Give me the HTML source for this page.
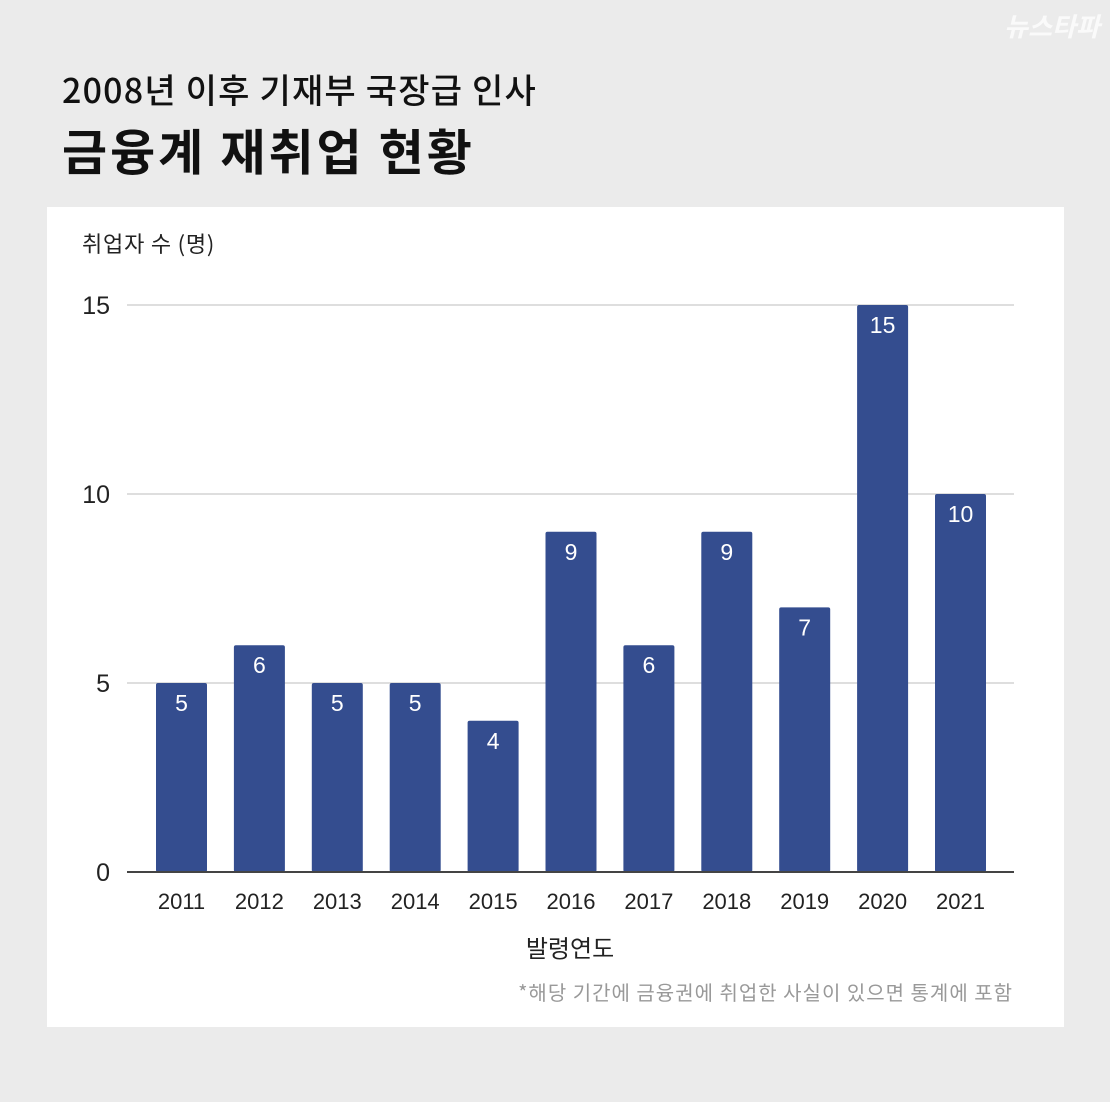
<!DOCTYPE html>
<html><head><meta charset="utf-8"><style>
body{margin:0;width:1110px;height:1102px;background:#ebebeb;font-family:"Liberation Sans","Noto Sans CJK KR",sans-serif;overflow:hidden}
svg{display:block}
</style></head><body>
<svg id="c" width="1110" height="1102">
<text x="1052" y="36" font-size="26" font-style="italic" font-weight="bold" fill="#fafafa" text-anchor="middle" font-family="Noto Sans CJK KR, sans-serif">뉴스타파</text>
<text x="62" y="103" font-size="34" letter-spacing="1.2" font-weight="500" fill="#111" font-family="Noto Sans CJK KR, sans-serif">2008년 이후 기재부 국장급 인사</text>
<text x="62" y="170" font-size="49" letter-spacing="3" font-weight="bold" fill="#111" font-family="Noto Sans CJK KR, sans-serif">금융계 재취업 현황</text>
<rect x="47" y="207" width="1017" height="820" fill="#fff"/>
<text x="82" y="252" font-size="22" letter-spacing="0.8" fill="#222" font-family="Noto Sans CJK KR, sans-serif">취업자 수 (명)</text>
<g id="grid"></g><g id="bars"></g>
<line x1="127" x2="1014" y1="872" y2="872" stroke="#444" stroke-width="2"/>
<text x="570" y="957" font-size="24" fill="#222" text-anchor="middle" font-family="Noto Sans CJK KR, sans-serif">발령연도</text>
<text x="1013" y="1000" font-size="20" letter-spacing="1" fill="#999" text-anchor="end" font-family="Noto Sans CJK KR, sans-serif">*해당 기간에 금융권에 취업한 사실이 있으면 통계에 포함</text>
</svg>
<script>
const categories=["2011","2012","2013","2014","2015","2016","2017","2018","2019","2020","2021"];
const values=[5,6,5,5,4,9,6,9,7,15,10];
const yTicks=[0,5,10,15];
const NS="http://www.w3.org/2000/svg";
const y=v=>872-v*(872-305)/15;
const x=i=>181.5+i*77.9;
function mk(t,a,p){const e=document.createElementNS(NS,t);for(const k in a)e.setAttribute(k,a[k]);p.appendChild(e);return e;}
const g=document.getElementById('grid'),b=document.getElementById('bars');
yTicks.forEach(v=>{
 if(v>0){const l=mk('line',{x1:127,x2:1014,y1:y(v),y2:y(v),stroke:'#d4d4d4','stroke-width':1.5},g);
 
 }
 const t=mk('text',{x:110,y:y(v)+9,'font-size':25,fill:'#222','text-anchor':'end'},g);t.textContent=v;
 
 
});
categories.forEach((c,i)=>{
 const r=mk('rect',{x:x(i)-25.5,y:y(values[i]),width:51,height:872-y(values[i]),rx:2,fill:'#344d8f'},b);
 
 
 const t=mk('text',{x:x(i),y:y(values[i])+28,'font-size':23,fill:'#fff','text-anchor':'middle'},b);t.textContent=values[i];
 
 
 const xl=mk('text',{x:x(i),y:909,'font-size':22,fill:'#222','text-anchor':'middle'},b);xl.textContent=c;
 
 
});
</script>
</body></html>
